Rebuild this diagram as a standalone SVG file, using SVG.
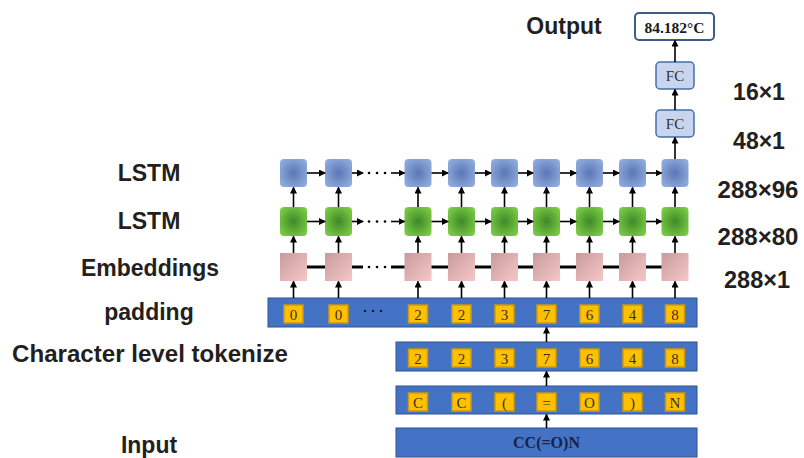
<svg xmlns="http://www.w3.org/2000/svg" width="804" height="458" viewBox="0 0 804 458">
<defs>
<radialGradient id="gBlue" cx="50%" cy="50%" r="60%">
<stop offset="0" stop-color="#5a77b6"/><stop offset="1" stop-color="#8fabdc"/>
</radialGradient>
<radialGradient id="gGreen" cx="50%" cy="50%" r="60%">
<stop offset="0" stop-color="#3d8a28"/><stop offset="1" stop-color="#7bc945"/>
</radialGradient>
<linearGradient id="gPink" x1="0" y1="0" x2="1" y2="1">
<stop offset="0" stop-color="#c99a9c"/><stop offset="1" stop-color="#f5c8c8"/>
</linearGradient>
<marker id="ah" markerWidth="7" markerHeight="7" refX="6" refY="3.5" orient="auto" markerUnits="userSpaceOnUse">
<path d="M0,0 L7,3.5 L0,7 z" fill="#000"/>
</marker>
</defs>
<style>
.lbl{font-family:"Liberation Sans",Arial,sans-serif;font-weight:bold;font-size:23px;fill:#231f20}
.dim{font-family:"Liberation Sans",Arial,sans-serif;font-weight:bold;font-size:23px;fill:#231f20}
.blue{fill:url(#gBlue)}
.green{fill:url(#gGreen)}
.pink{fill:url(#gPink)}
.bar{fill:#4472c4;stroke:#2f528f;stroke-width:1}
.tok{fill:#ffc000;stroke:#c99a10;stroke-width:1.5}
.tt{font-family:"Liberation Serif","Times New Roman",serif;font-size:15px;fill:#3a3020;text-anchor:middle}
.fc{fill:#c7d5ee;stroke:#4a6ea8;stroke-width:1.5}
.ar{stroke:#000;stroke-width:1.6;fill:none;marker-end:url(#ah)}
.th{stroke:#000;stroke-width:3;fill:none}
.dot{fill:#000}
</style>

<g id="labels">
<text class="lbl" x="564" y="34" text-anchor="middle">Output</text>
<text class="lbl" x="149" y="181" text-anchor="middle">LSTM</text>
<text class="lbl" x="149" y="229" text-anchor="middle">LSTM</text>
<text class="lbl" x="150" y="276" text-anchor="middle">Embeddings</text>
<text class="lbl" x="149" y="320" text-anchor="middle">padding</text>
<text class="lbl" x="150" y="362" text-anchor="middle" textLength="276" lengthAdjust="spacingAndGlyphs">Character level tokenize</text>
<text class="lbl" x="149" y="453" text-anchor="middle">Input</text>
<text class="dim" x="759" y="100" text-anchor="middle">16×1</text>
<text class="dim" x="759" y="149" text-anchor="middle">48×1</text>
<text class="dim" x="758" y="198" text-anchor="middle" textLength="81" lengthAdjust="spacingAndGlyphs">288×96</text>
<text class="dim" x="758" y="245" text-anchor="middle" textLength="81" lengthAdjust="spacingAndGlyphs">288×80</text>
<text class="dim" x="757" y="288" text-anchor="middle" textLength="66" lengthAdjust="spacingAndGlyphs">288×1</text>
</g>

<g id="output">
<rect x="635" y="13" width="79" height="27" rx="4" fill="#fff" stroke="#3d5a8a" stroke-width="2"/>
<text x="674.5" y="32.5" text-anchor="middle" font-family="Liberation Serif,serif" font-weight="bold" font-size="15.5" fill="#1a1a1a">84.182°C</text>
</g>
<g id="fc2">
<rect class="fc" x="656" y="62" width="38" height="27" rx="4"/>
<text class="tt" x="675" y="81" font-size="15">FC</text>
</g>
<g id="fc1">
<rect class="fc" x="656" y="110" width="38" height="27" rx="4" fill="#b8cae9"/>
<text class="tt" x="675" y="129" font-size="15">FC</text>
</g>

<g id="lstm2">
<rect class="blue" x="280" y="159" width="27" height="28" rx="4"/>
<rect class="blue" x="325" y="159" width="27" height="28" rx="4"/>
<rect class="blue" x="404.5" y="159" width="27" height="28" rx="4"/>
<rect class="blue" x="448" y="159" width="27" height="28" rx="4"/>
<rect class="blue" x="491" y="159" width="27" height="28" rx="4"/>
<rect class="blue" x="533" y="159" width="27" height="28" rx="4"/>
<rect class="blue" x="576" y="159" width="27" height="28" rx="4"/>
<rect class="blue" x="619" y="159" width="27" height="28" rx="4"/>
<rect class="blue" x="661.5" y="159" width="27" height="28" rx="4"/>
</g>
<g id="lstm1">
<rect class="green" x="280" y="207" width="27" height="29" rx="4"/>
<rect class="green" x="325" y="207" width="27" height="29" rx="4"/>
<rect class="green" x="404.5" y="207" width="27" height="29" rx="4"/>
<rect class="green" x="448" y="207" width="27" height="29" rx="4"/>
<rect class="green" x="491" y="207" width="27" height="29" rx="4"/>
<rect class="green" x="533" y="207" width="27" height="29" rx="4"/>
<rect class="green" x="576" y="207" width="27" height="29" rx="4"/>
<rect class="green" x="619" y="207" width="27" height="29" rx="4"/>
<rect class="green" x="661.5" y="207" width="27" height="29" rx="4"/>
</g>
<g id="embeddings">
<rect class="pink" x="280" y="253" width="27" height="28"/>
<rect class="pink" x="325" y="253" width="27" height="28"/>
<rect class="pink" x="404.5" y="253" width="27" height="28"/>
<rect class="pink" x="448" y="253" width="27" height="28"/>
<rect class="pink" x="491" y="253" width="27" height="28"/>
<rect class="pink" x="533" y="253" width="27" height="28"/>
<rect class="pink" x="576" y="253" width="27" height="28"/>
<rect class="pink" x="619" y="253" width="27" height="28"/>
<rect class="pink" x="661.5" y="253" width="27" height="28"/>
</g>

<g id="padding">
<rect class="bar" x="268" y="298" width="429" height="29"/>
<g>
<rect class="tok" x="284" y="305" width="19" height="18"/><text class="tt" x="293.5" y="319.5">0</text>
<rect class="tok" x="329" y="305" width="19" height="18"/><text class="tt" x="338.5" y="319.5">0</text>
<text x="374" y="317" text-anchor="middle" font-family="Liberation Serif,serif" font-size="18" letter-spacing="2" fill="#111">···</text>
<rect class="tok" x="408.5" y="305" width="19" height="18"/><text class="tt" x="418" y="319.5">2</text>
<rect class="tok" x="452" y="305" width="19" height="18"/><text class="tt" x="461.5" y="319.5">2</text>
<rect class="tok" x="495" y="305" width="19" height="18"/><text class="tt" x="504.5" y="319.5">3</text>
<rect class="tok" x="537" y="305" width="19" height="18"/><text class="tt" x="546.5" y="319.5">7</text>
<rect class="tok" x="580" y="305" width="19" height="18"/><text class="tt" x="589.5" y="319.5">6</text>
<rect class="tok" x="623" y="305" width="19" height="18"/><text class="tt" x="632.5" y="319.5">4</text>
<rect class="tok" x="665.5" y="305" width="19" height="18"/><text class="tt" x="675" y="319.5">8</text>
</g>
</g>

<g id="tokenize">
<rect class="bar" x="396" y="342" width="301" height="29"/>
<rect class="tok" x="408.5" y="349" width="19" height="18"/><text class="tt" x="418" y="363.5">2</text>
<rect class="tok" x="452" y="349" width="19" height="18"/><text class="tt" x="461.5" y="363.5">2</text>
<rect class="tok" x="495" y="349" width="19" height="18"/><text class="tt" x="504.5" y="363.5">3</text>
<rect class="tok" x="537" y="349" width="19" height="18"/><text class="tt" x="546.5" y="363.5">7</text>
<rect class="tok" x="580" y="349" width="19" height="18"/><text class="tt" x="589.5" y="363.5">6</text>
<rect class="tok" x="623" y="349" width="19" height="18"/><text class="tt" x="632.5" y="363.5">4</text>
<rect class="tok" x="665.5" y="349" width="19" height="18"/><text class="tt" x="675" y="363.5">8</text>
</g>

<g id="characters">
<rect class="bar" x="396" y="386" width="301" height="28"/>
<rect class="tok" x="408.5" y="393" width="19" height="18"/><text class="tt" x="418" y="407.5">C</text>
<rect class="tok" x="452" y="393" width="19" height="18"/><text class="tt" x="461.5" y="407.5">C</text>
<rect class="tok" x="495" y="393" width="19" height="18"/><text class="tt" x="504.5" y="407.5">(</text>
<rect class="tok" x="537" y="393" width="19" height="18"/><text class="tt" x="546.5" y="407.5" fill="#e0a818">=</text>
<rect class="tok" x="580" y="393" width="19" height="18"/><text class="tt" x="589.5" y="407.5">O</text>
<rect class="tok" x="623" y="393" width="19" height="18"/><text class="tt" x="632.5" y="407.5">)</text>
<rect class="tok" x="665.5" y="393" width="19" height="18"/><text class="tt" x="675" y="407.5">N</text>
</g>

<g id="input">
<rect class="bar" x="396" y="428" width="301" height="29"/>
<text x="546.5" y="447.5" text-anchor="middle" font-family="Liberation Serif,serif" font-weight="bold" font-size="16" fill="#16244a">CC(=O)N</text>
</g>

<g id="connectors">
<line class="ar" x1="546.5" y1="428" x2="546.5" y2="414.5"/>
<line class="ar" x1="546.5" y1="386" x2="546.5" y2="371.5"/>
<line class="ar" x1="546.5" y1="342" x2="546.5" y2="327.5"/>
<line class="ar" x1="293.5" y1="298" x2="293.5" y2="281.5"/>
<line class="ar" x1="338.5" y1="298" x2="338.5" y2="281.5"/>
<line class="ar" x1="418" y1="298" x2="418" y2="281.5"/>
<line class="ar" x1="461.5" y1="298" x2="461.5" y2="281.5"/>
<line class="ar" x1="504.5" y1="298" x2="504.5" y2="281.5"/>
<line class="ar" x1="546.5" y1="298" x2="546.5" y2="281.5"/>
<line class="ar" x1="589.5" y1="298" x2="589.5" y2="281.5"/>
<line class="ar" x1="632.5" y1="298" x2="632.5" y2="281.5"/>
<line class="ar" x1="675" y1="298" x2="675" y2="281.5"/>
<line class="ar" x1="293.5" y1="253" x2="293.5" y2="236.5"/>
<line class="ar" x1="338.5" y1="253" x2="338.5" y2="236.5"/>
<line class="ar" x1="418" y1="253" x2="418" y2="236.5"/>
<line class="ar" x1="461.5" y1="253" x2="461.5" y2="236.5"/>
<line class="ar" x1="504.5" y1="253" x2="504.5" y2="236.5"/>
<line class="ar" x1="546.5" y1="253" x2="546.5" y2="236.5"/>
<line class="ar" x1="589.5" y1="253" x2="589.5" y2="236.5"/>
<line class="ar" x1="632.5" y1="253" x2="632.5" y2="236.5"/>
<line class="ar" x1="675" y1="253" x2="675" y2="236.5"/>
<line class="ar" x1="293.5" y1="207" x2="293.5" y2="187.5"/>
<line class="ar" x1="338.5" y1="207" x2="338.5" y2="187.5"/>
<line class="ar" x1="418" y1="207" x2="418" y2="187.5"/>
<line class="ar" x1="461.5" y1="207" x2="461.5" y2="187.5"/>
<line class="ar" x1="504.5" y1="207" x2="504.5" y2="187.5"/>
<line class="ar" x1="546.5" y1="207" x2="546.5" y2="187.5"/>
<line class="ar" x1="589.5" y1="207" x2="589.5" y2="187.5"/>
<line class="ar" x1="632.5" y1="207" x2="632.5" y2="187.5"/>
<line class="ar" x1="675" y1="207" x2="675" y2="187.5"/>
<line class="ar" x1="675" y1="159" x2="675" y2="137.5"/>
<line class="ar" x1="675" y1="110" x2="675" y2="89.5"/>
<line class="ar" x1="675" y1="62" x2="675" y2="40.5"/>
<line class="ar" x1="307" y1="173" x2="325" y2="173"/>
<line class="ar" x1="352" y1="173" x2="363" y2="173"/>
<circle class="dot" cx="369" cy="173" r="1.3"/><circle class="dot" cx="377" cy="173" r="1.3"/><circle class="dot" cx="385" cy="173" r="1.3"/>
<line class="ar" x1="391" y1="173" x2="404.5" y2="173"/>
<line class="ar" x1="431.5" y1="173" x2="448" y2="173"/>
<line class="ar" x1="475" y1="173" x2="491" y2="173"/>
<line class="ar" x1="518" y1="173" x2="533" y2="173"/>
<line class="ar" x1="560" y1="173" x2="576" y2="173"/>
<line class="ar" x1="603" y1="173" x2="619" y2="173"/>
<line class="ar" x1="646" y1="173" x2="661.5" y2="173"/>
<line class="ar" x1="307" y1="221.5" x2="325" y2="221.5"/>
<line class="ar" x1="352" y1="221.5" x2="363" y2="221.5"/>
<circle class="dot" cx="369" cy="221.5" r="1.3"/><circle class="dot" cx="377" cy="221.5" r="1.3"/><circle class="dot" cx="385" cy="221.5" r="1.3"/>
<line class="ar" x1="391" y1="221.5" x2="404.5" y2="221.5"/>
<line class="ar" x1="431.5" y1="221.5" x2="448" y2="221.5"/>
<line class="ar" x1="475" y1="221.5" x2="491" y2="221.5"/>
<line class="ar" x1="518" y1="221.5" x2="533" y2="221.5"/>
<line class="ar" x1="560" y1="221.5" x2="576" y2="221.5"/>
<line class="ar" x1="603" y1="221.5" x2="619" y2="221.5"/>
<line class="ar" x1="646" y1="221.5" x2="661.5" y2="221.5"/>
<line class="th" x1="307" y1="267" x2="325" y2="267"/>
<line class="th" x1="352" y1="267" x2="363" y2="267"/>
<circle class="dot" cx="369" cy="267" r="1.3"/><circle class="dot" cx="377" cy="267" r="1.3"/><circle class="dot" cx="385" cy="267" r="1.3"/>
<line class="th" x1="391" y1="267" x2="404.5" y2="267"/>
<line class="th" x1="431.5" y1="267" x2="448" y2="267"/>
<line class="th" x1="475" y1="267" x2="491" y2="267"/>
<line class="th" x1="518" y1="267" x2="533" y2="267"/>
<line class="th" x1="560" y1="267" x2="576" y2="267"/>
<line class="th" x1="603" y1="267" x2="619" y2="267"/>
<line class="th" x1="646" y1="267" x2="661.5" y2="267"/>
</g>
</svg>
